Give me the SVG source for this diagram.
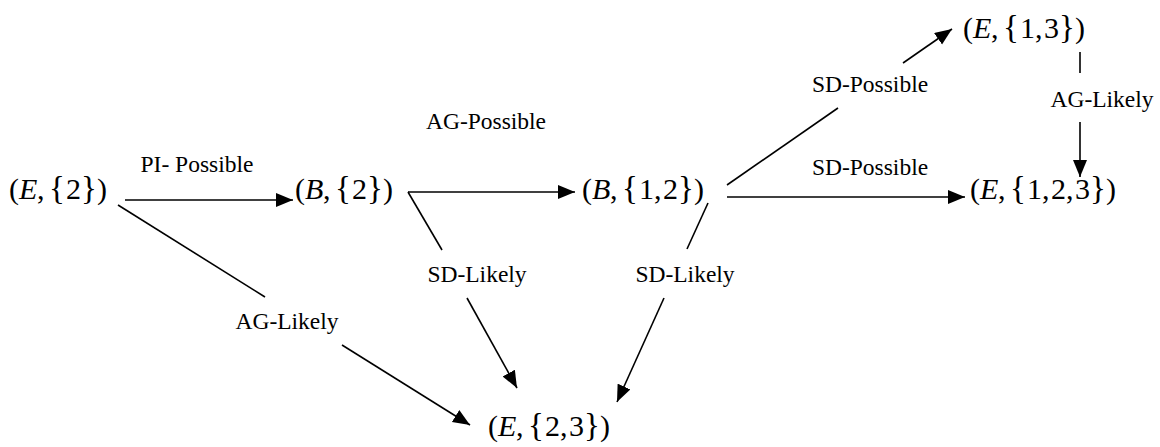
<svg xmlns="http://www.w3.org/2000/svg" width="1160" height="447" viewBox="0 0 1160 447">
  <style>
    .node { font-family: "Liberation Serif", "Times New Roman", serif; font-size: 30px; fill: #000; }
    .node .v { font-style: italic; }
    .node .br { font-size: 33px; }
    .lbl { font-family: "Liberation Serif", "Times New Roman", serif; font-size: 23.5px; fill: #000; text-anchor: middle; }
    .edge { stroke: #000; stroke-width: 1.6; fill: none; }
    .arrow { marker-end: url(#head); }
  </style>
  <defs>
    <marker id="head" markerUnits="userSpaceOnUse" markerWidth="18" markerHeight="15" refX="17" refY="7" orient="auto">
      <path d="M0,0 L17,7 L0,14 z" fill="#000"/>
    </marker>
  </defs>
  <rect width="1160" height="447" fill="#fff"/>

  <!-- state nodes: (actor, set) -->
  <g id="n-E2">
    <text class="node" y="199"><tspan x="9">(</tspan><tspan class="v" x="19">E</tspan><tspan x="37">,</tspan><tspan class="br" x="49">{</tspan><tspan x="66">2</tspan><tspan class="br" x="81">}</tspan><tspan x="97">)</tspan></text>
  </g>
  <g id="n-B2">
    <text class="node" y="199"><tspan x="295">(</tspan><tspan class="v" x="305">B</tspan><tspan x="323">,</tspan><tspan class="br" x="335">{</tspan><tspan x="352">2</tspan><tspan class="br" x="367">}</tspan><tspan x="383">)</tspan></text>
  </g>
  <g id="n-B12">
    <text class="node" y="199"><tspan x="582">(</tspan><tspan class="v" x="592">B</tspan><tspan x="610">,</tspan><tspan class="br" x="622">{</tspan><tspan x="639">1</tspan><tspan x="654">,</tspan><tspan x="663">2</tspan><tspan class="br" x="678">}</tspan><tspan x="694">)</tspan></text>
  </g>
  <g id="n-E13">
    <text class="node" y="38"><tspan x="963">(</tspan><tspan class="v" x="973">E</tspan><tspan x="991">,</tspan><tspan class="br" x="1003">{</tspan><tspan x="1020">1</tspan><tspan x="1035">,</tspan><tspan x="1044">3</tspan><tspan class="br" x="1059">}</tspan><tspan x="1075">)</tspan></text>
  </g>
  <g id="n-E123">
    <text class="node" y="199"><tspan x="970">(</tspan><tspan class="v" x="980">E</tspan><tspan x="998">,</tspan><tspan class="br" x="1010">{</tspan><tspan x="1027">1</tspan><tspan x="1042">,</tspan><tspan x="1051">2</tspan><tspan x="1066">,</tspan><tspan x="1075">3</tspan><tspan class="br" x="1090">}</tspan><tspan x="1106">)</tspan></text>
  </g>
  <g id="n-E23">
    <text class="node" y="436"><tspan x="488">(</tspan><tspan class="v" x="498">E</tspan><tspan x="516">,</tspan><tspan class="br" x="528">{</tspan><tspan x="545">2</tspan><tspan x="560">,</tspan><tspan x="569">3</tspan><tspan class="br" x="584">}</tspan><tspan x="600">)</tspan></text>
  </g>

  <!-- transitions; labelled edges are split around their label -->
  <g id="connectors">
    <path class="edge arrow" d="M125,200 L293,200"/>
    <path class="edge arrow" d="M408,192 L575,192"/>
    <path class="edge" d="M408,192 L442,250"/>
    <path class="edge arrow" d="M467,298 L517,388"/>
    <path class="edge" d="M118,205 L265,297"/>
    <path class="edge arrow" d="M342,345 L470,425"/>
    <path class="edge" d="M708,203 L687,249"/>
    <path class="edge arrow" d="M664,298 L617,402"/>
    <path class="edge" d="M727,185 L838,108"/>
    <path class="edge arrow" d="M903,63 L952,29"/>
    <path class="edge arrow" d="M727,197 L965,197"/>
    <path class="edge" d="M1080,52 L1080,73"/>
    <path class="edge arrow" d="M1080,122 L1080,177"/>
  </g>

  <g id="labels">
    <text class="lbl" x="197" y="172">PI- Possible</text>
    <text class="lbl" x="486" y="129">AG-Possible</text>
    <text class="lbl" x="477" y="282">SD-Likely</text>
    <text class="lbl" x="287" y="329">AG-Likely</text>
    <text class="lbl" x="685" y="282">SD-Likely</text>
    <text class="lbl" x="870" y="92">SD-Possible</text>
    <text class="lbl" x="870" y="175">SD-Possible</text>
    <text class="lbl" x="1102" y="107">AG-Likely</text>
  </g>
</svg>
